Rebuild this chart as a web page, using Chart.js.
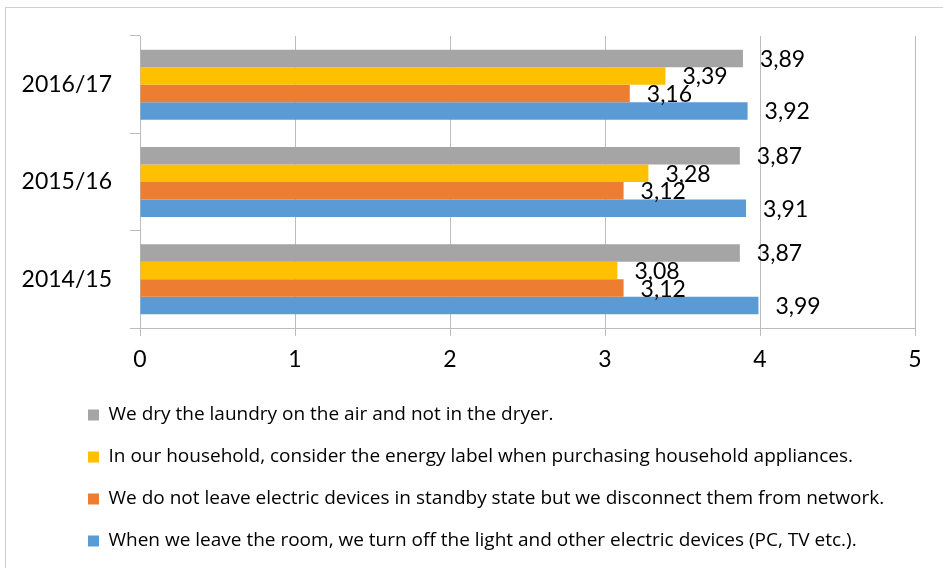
<!DOCTYPE html>
<html lang="en">
<head>
    <meta charset="UTF-8">
    <title>Energy saving habits</title>
    <script src="https://cdn.jsdelivr.net/npm/chart.js"></script>
    <style>
        body {
            margin: 0;
            background: #fff;
            font-family: Lato, sans-serif;
        }
        #frame {
            position: absolute;
            left: 5px;
            top: 7px;
            width: 960px;
            height: 580px;
            border-top: 1px solid #d0d0d0;
            border-left: 1px solid #d0d0d0;
        }
        #wrap {
            position: absolute;
            left: 0;
            top: 0;
            width: 943px;
            height: 568px;
        }
    </style>
</head>
<body>
    <div id="frame"></div>
    <div id="wrap"><canvas id="myChart"></canvas></div>

    <script>
        // school years, top to bottom as in the picture
        const years = ['2016/17', '2015/16', '2014/15'];

        const seriesNames = [
            'We dry the laundry on the air and not in the dryer.',
            'In our household, consider the energy label when purchasing household appliances.',
            'We do not leave electric devices in standby state but we disconnect them from network.',
            'When we leave the room, we turn off the light and other electric devices (PC, TV etc.).'
        ];

        const dryLaundry   = [3.89, 3.87, 3.87];
        const energyLabel  = [3.39, 3.28, 3.08];
        const noStandby    = [3.16, 3.12, 3.12];
        const lightsOff    = [3.92, 3.91, 3.99];

        const xTicks = [0, 1, 2, 3, 4, 5];

        const colors = ['#A5A5A5', '#FFC000', '#ED7D31', '#5B9BD5'];
        const gridColor = '#bcbcbc';

        // value labels to the right of each bar, decimal comma
        const valueLabels = {
            id: 'valueLabels',
            afterDatasetsDraw(chart) {
                const c = chart.ctx;
                c.save();
                c.font = '23px Lato';
                c.fillStyle = '#000';
                c.textAlign = 'left';
                c.textBaseline = 'middle';
                chart.data.datasets.forEach((ds, i) => {
                    chart.getDatasetMeta(i).data.forEach((bar, j) => {
                        const txt = ds.data[j].toFixed(2).replace('.', ',');
                        c.fillText(txt, bar.x + 17, bar.y + 1);
                    });
                });
                c.restore();
            }
        };

        // legend sits indented from the left edge
        const legendIndent = {
            id: 'legendIndent',
            afterLayout(chart) {
                chart.legend.left = 65;
            }
        };

        const ctx = document.getElementById('myChart').getContext('2d');
        const myChart = new Chart(ctx, {
            type: 'bar',
            data: {
                labels: years,
                datasets: [
                    { label: seriesNames[0], data: dryLaundry,  backgroundColor: colors[0] },
                    { label: seriesNames[1], data: energyLabel, backgroundColor: colors[1] },
                    { label: seriesNames[2], data: noStandby,   backgroundColor: colors[2] },
                    { label: seriesNames[3], data: lightsOff,   backgroundColor: colors[3] }
                ]
            },
            options: {
                indexAxis: 'y',
                responsive: true,
                maintainAspectRatio: false,
                animation: false,
                datasets: {
                    bar: {
                        categoryPercentage: 0.72,
                        barPercentage: 1
                    }
                },
                layout: {
                    padding: { top: 36, right: 28, bottom: 7.5, left: 0 }
                },
                scales: {
                    x: {
                        min: 0,
                        max: 5,
                        afterBuildTicks: (scale) => {
                            scale.ticks = xTicks.map(v => ({ value: v }));
                        },
                        afterFit: (scale) => { scale.height = 54.5; },
                        grid: { color: gridColor, tickLength: 8 },
                        border: { color: gridColor },
                        ticks: {
                            color: '#000',
                            font: { family: 'Lato', size: 23 },
                            padding: 10
                        }
                    },
                    y: {
                        afterFit: (scale) => { scale.width = 140; },
                        grid: {
                            drawOnChartArea: false,
                            color: gridColor,
                            tickLength: 10,
                            offset: true
                        },
                        border: { color: gridColor },
                        ticks: {
                            color: '#000',
                            font: { family: 'Lato', size: 23 },
                            padding: 18
                        }
                    }
                },
                plugins: {
                    tooltip: { enabled: false },
                    legend: {
                        position: 'bottom',
                        align: 'start',
                        labels: {
                            boxWidth: 11,
                            boxHeight: 11,
                            padding: 23,
                            color: '#000',
                            font: { family: 'Open Sans', size: 19 }
                        }
                    }
                }
            },
            plugins: [valueLabels, legendIndent]
        });
    </script>
</body>
</html>
